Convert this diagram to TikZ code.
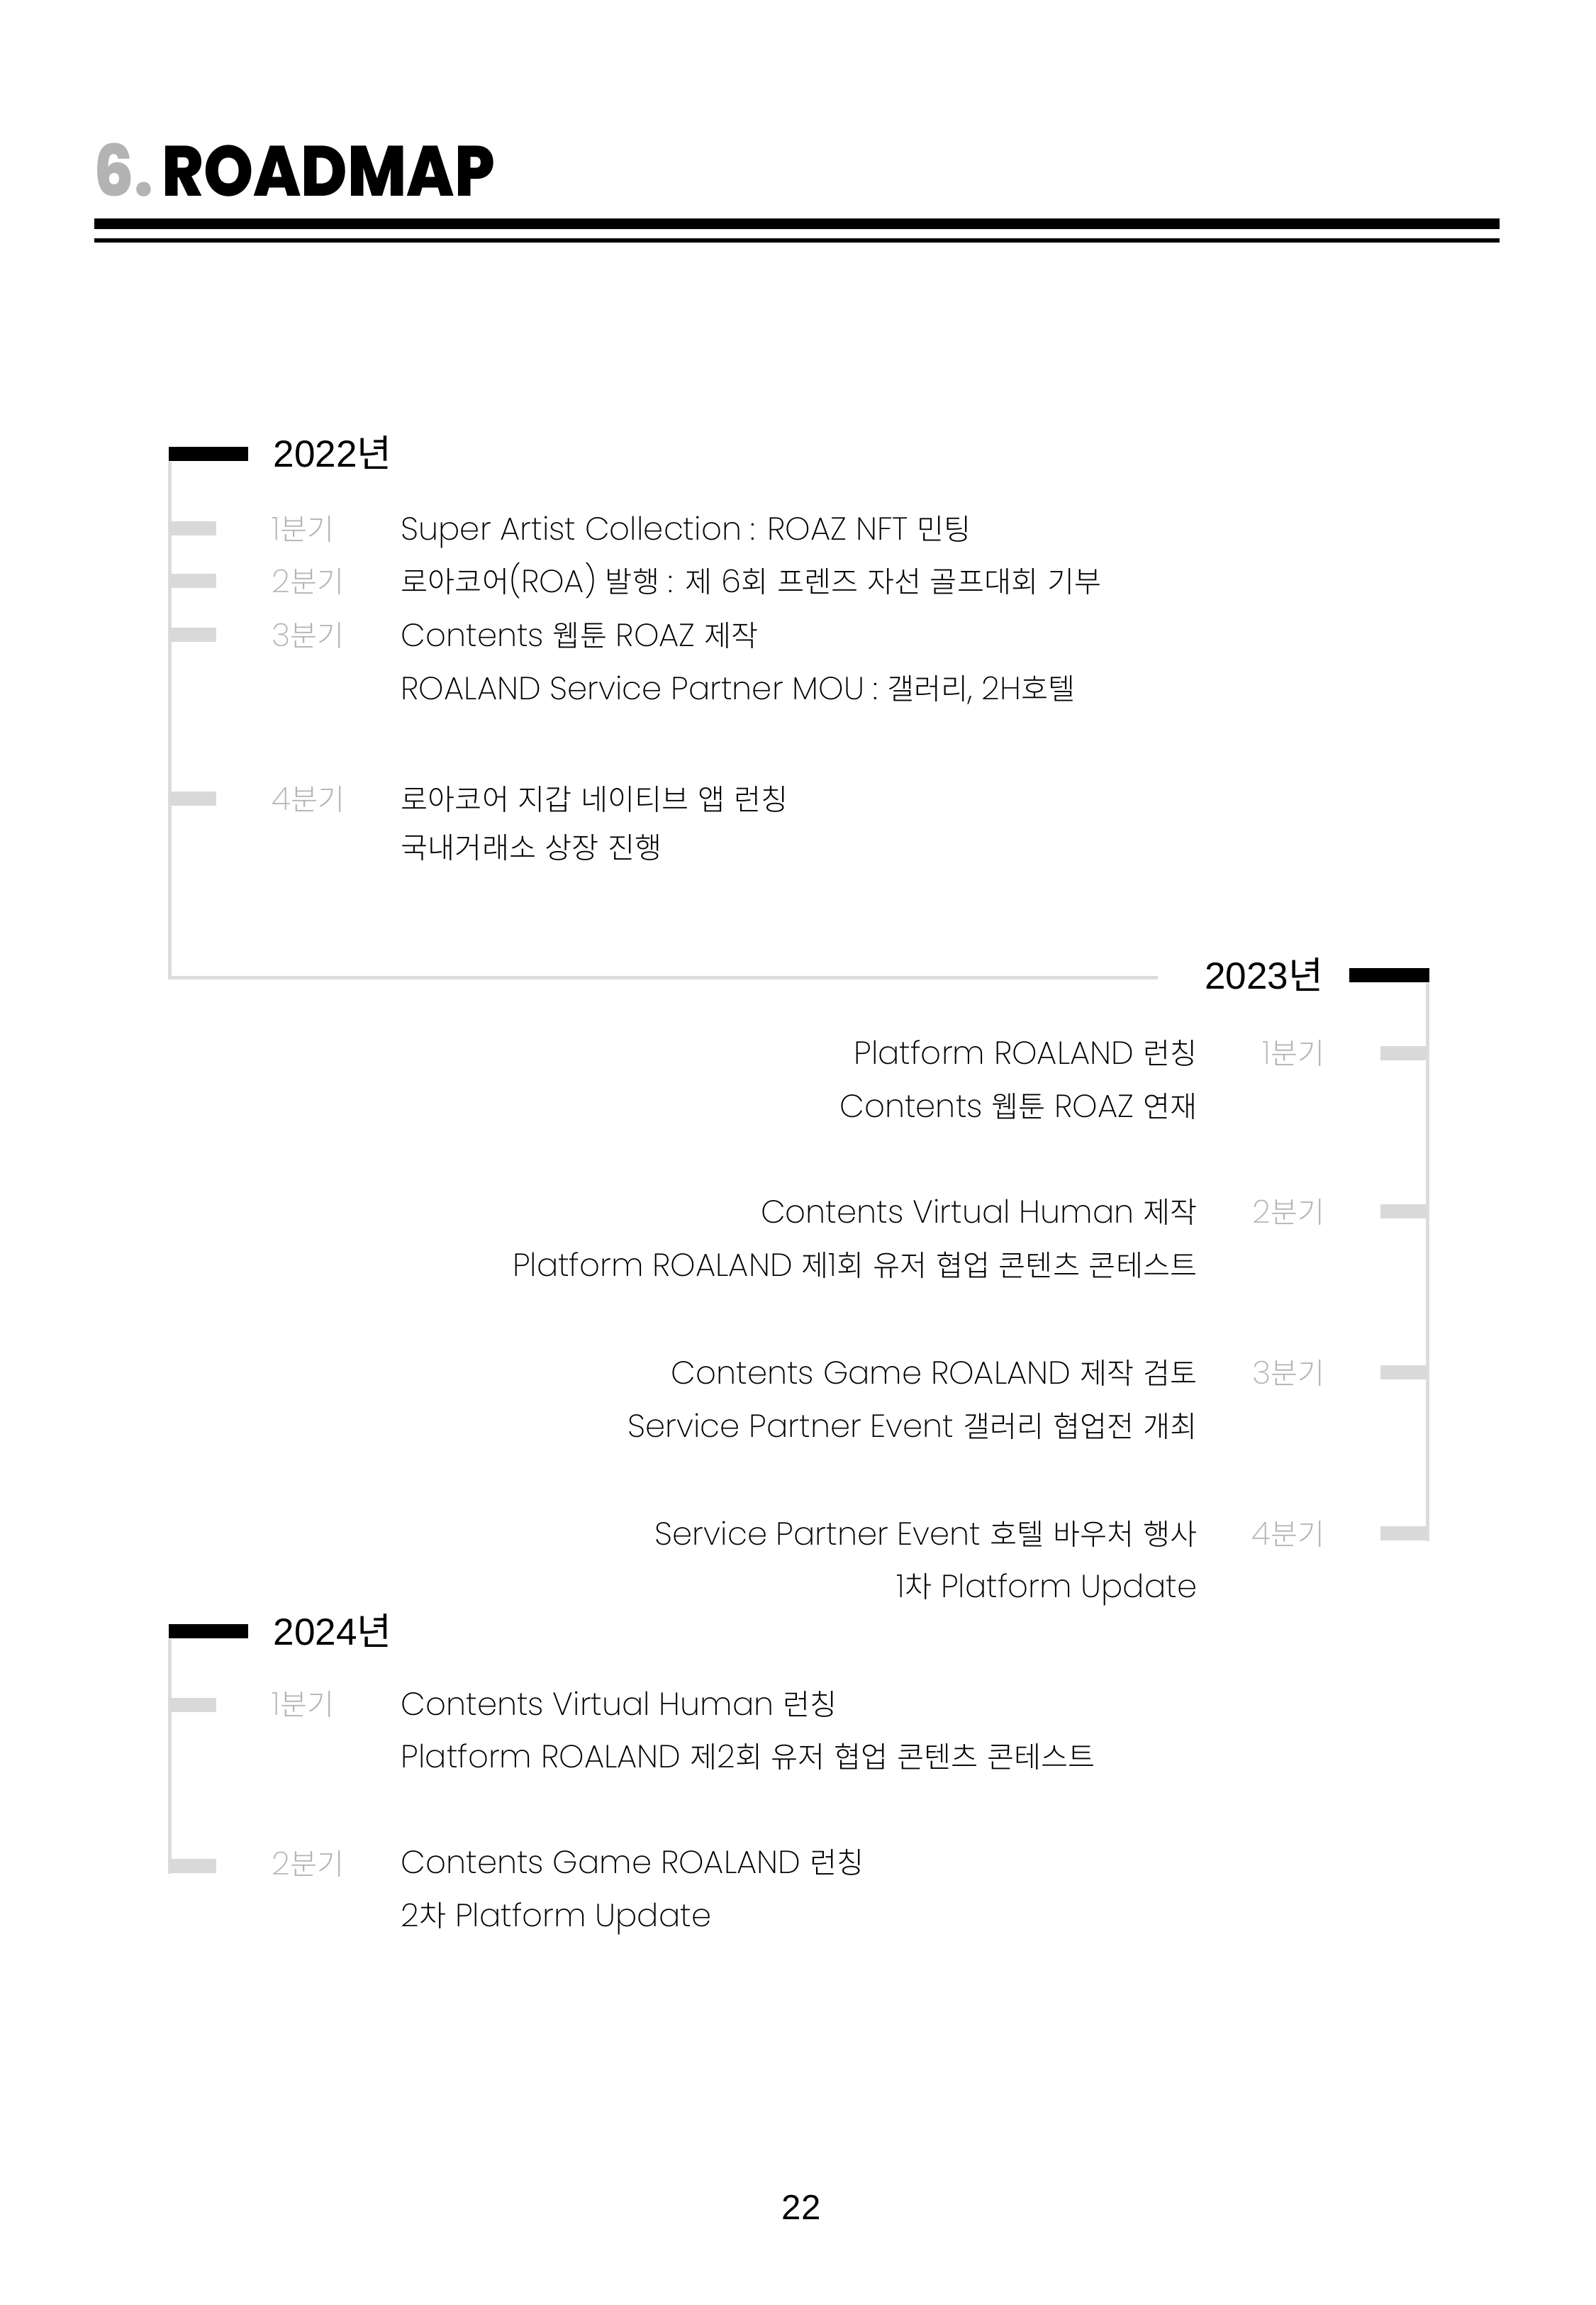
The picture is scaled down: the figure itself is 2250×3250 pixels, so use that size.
\documentclass[tikz,border=0pt]{standalone}
\usepackage{fontspec}
\setmainfont{Poppins}[UprightFont=* ExtraLight]
\newfontfamily\yearlat{Liberation Sans}
\newfontfamily\titlelat{Poppins}[UprightFont=* ExtraBold,FakeStretch=0.89]
\newfontfamily\krlight{Noto Sans CJK KR Light}[Scale=0.92]
\newfontfamily\kryear{Noto Sans CJK KR}
\newfontfamily\pagelat{Liberation Sans}

% Hangul syllables switch to the Korean face
\XeTeXinterchartokenstate=1
\newXeTeXintercharclass\hangulclass
\newcount\hcount
\hcount="AC00
\loop\ifnum\hcount<"D7A4
  \XeTeXcharclass\hcount=\hangulclass
  \advance\hcount by 1
\repeat
\def\latinfam{\rmfamily}
\def\hangulfam{\krlight}
\XeTeXinterchartoks 0 \hangulclass = {\hangulfam}
\XeTeXinterchartoks 4095 \hangulclass = {\hangulfam}
\XeTeXinterchartoks \hangulclass 0 = {\latinfam}
\XeTeXinterchartoks \hangulclass 4095 = {\latinfam}

\newcommand\itemfont{\def\latinfam{\rmfamily}\def\hangulfam{\krlight}\rmfamily\fontsize{12.8}{15}\selectfont}
\newcommand\yearfont{\def\latinfam{\yearlat}\def\hangulfam{\kryear}\yearlat\fontsize{15.1}{18}\selectfont}

\definecolor{linegray}{HTML}{DCDCDC}
\definecolor{tickgray}{HTML}{D9D9D9}
\definecolor{qgray}{HTML}{B4B4B4}
\definecolor{numgray}{HTML}{B3B3B3}

\begin{document}
\begin{tikzpicture}[x=0.01cm,y=-0.01cm,
every node/.style={inner sep=0pt},
itemtext/.style={font=\itemfont,anchor=base west},
ritemtext/.style={itemtext,anchor=base east},
quarter/.style={font=\itemfont,text=qgray,anchor=base west},
rquarter/.style={quarter,anchor=base east},
year/.style={font=\yearfont,anchor=base west},
yearbar/.style={fill=black,minimum width=1.12cm,minimum height=0.2cm},
tick/.style={fill=tickgray,minimum width=0.67cm,minimum height=0.2cm},
timeline/.style={draw=linegray,line width=0.05cm}]

\useasboundingbox (0,0) rectangle (2250,3250);

% title
\node[font=\titlelat\fontsize{28.5}{31}\selectfont,anchor=base west] (title) at (132,276)
  {\textcolor{numgray}{6.}\kern0.12cm ROADMAP};
\fill (133,308) rectangle (2115,323);
\fill (133,336) rectangle (2115,342);

% 2022
\node[yearbar] (b22) at (294,640) {};
\node[year] (y22) at (385,658) {2022년};
\coordinate (e22) at (1633,1378);
\draw[timeline] ([xshift=0.025cm]b22.south west) |- (e22);
\node[tick] (t22a) at (271.5,745) {};
\node[tick] (t22b) at (271.5,819) {};
\node[tick] (t22c) at (271.5,895) {};
\node[tick] (t22d) at (271.5,1126) {};
\node[quarter] (q22a) at (383,761) {1분기};
\node[quarter] (q22b) at (383,835) {2분기};
\node[quarter] (q22c) at (383,911) {3분기};
\node[quarter] (q22d) at (383,1142) {4분기};
\node[itemtext] (i22a) at (565,761) {Super Artist Collection : ROAZ NFT 민팅};
\node[itemtext] (i22b) at (565,835) {로아코어(ROA) 발행 : 제 6회 프렌즈 자선 골프대회 기부};
\node[itemtext] (i22c) at (565,911) {Contents 웹툰 ROAZ 제작};
\node[itemtext] (i22d) at (565,986) {ROALAND Service Partner MOU : 갤러리, 2H호텔};
\node[itemtext] (i22e) at (565,1142) {로아코어 지갑 네이티브 앱 런칭};
\node[itemtext] (i22f) at (565,1210) {국내거래소 상장 진행};

% 2023
\node[yearbar] (b23) at (1959.5,1375) {};
\node[year,anchor=base east] (y23) at (1867,1394) {2023년};
\node[tick] (t23a) at (1980.5,1485) {};
\node[tick] (t23b) at (1980.5,1708) {};
\node[tick] (t23c) at (1980.5,1935) {};
\node[tick] (t23d) at (1980.5,2162) {};
\draw[timeline] ([xshift=-0.025cm]b23.south east) -- ([xshift=-0.025cm]b23.south east |- t23d.south);
\node[rquarter] (q23a) at (1869,1500) {1분기};
\node[rquarter] (q23b) at (1869,1724) {2분기};
\node[rquarter] (q23c) at (1869,1951) {3분기};
\node[rquarter] (q23d) at (1869,2178) {4분기};
\node[ritemtext] (i23a) at (1689,1500) {Platform ROALAND 런칭};
\node[ritemtext] (i23b) at (1689,1575) {Contents 웹툰 ROAZ 연재};
\node[ritemtext] (i23c) at (1689,1724) {Contents Virtual Human 제작};
\node[ritemtext] (i23d) at (1689,1799) {Platform ROALAND 제1회 유저 협업 콘텐츠 콘테스트};
\node[ritemtext] (i23e) at (1689,1951) {Contents Game ROALAND 제작 검토};
\node[ritemtext] (i23f) at (1689,2026) {Service Partner Event 갤러리 협업전 개최};
\node[ritemtext] (i23g) at (1689,2178) {Service Partner Event 호텔 바우처 행사};
\node[ritemtext] (i23h) at (1689,2252) {1차 Platform Update};

% 2024
\node[yearbar] (b24) at (294,2300) {};
\node[year] (y24) at (385,2319) {2024년};
\node[tick] (t24a) at (271.5,2404) {};
\node[tick] (t24b) at (271.5,2631) {};
\draw[timeline] ([xshift=0.025cm]b24.south west) -- ([xshift=0.025cm]b24.south west |- t24b.south);
\node[tick] at (t24a) {};
\node[tick] at (t24b) {};
\node[quarter] (q24a) at (383,2418) {1분기};
\node[quarter] (q24b) at (383,2643) {2분기};
\node[itemtext] (i24a) at (565,2418) {Contents Virtual Human 런칭};
\node[itemtext] (i24b) at (565,2492) {Platform ROALAND 제2회 유저 협업 콘텐츠 콘테스트};
\node[itemtext] (i24c) at (565,2641) {Contents Game ROALAND 런칭};
\node[itemtext] (i24d) at (565,2716) {2차 Platform Update};

% page number
\node[font=\pagelat\fontsize{14}{16}\selectfont] (page) at (1130,3112) {22};
\end{tikzpicture}
\end{document}
